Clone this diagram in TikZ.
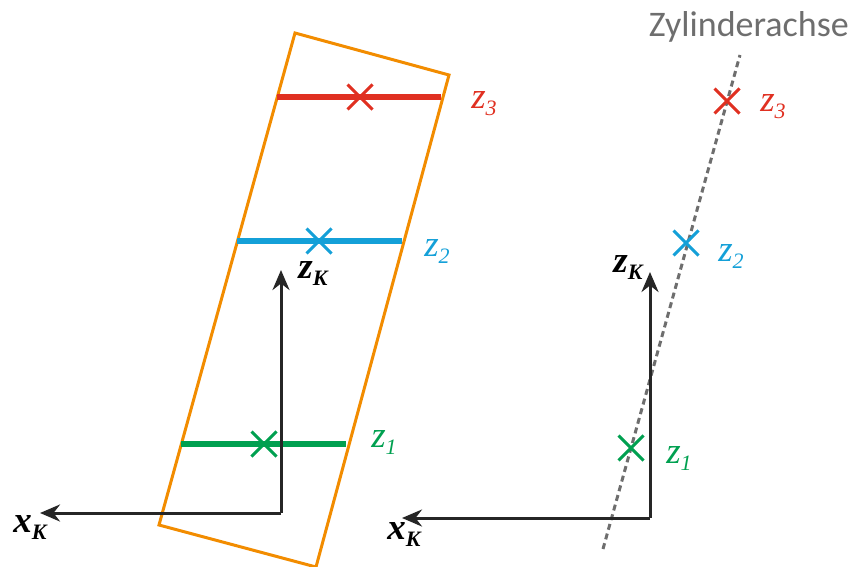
\documentclass[tikz,border=0pt]{standalone}
\usepackage{fontspec}
\setmainfont{Liberation Serif}
\newfontfamily\zfont{Liberation Serif}
\newfontfamily\labelfont{Carlito}
\usepackage{xcolor}
\usepackage{tikz}
\usetikzlibrary{positioning, arrows.meta, shapes.misc}
\definecolor{cylorange}{HTML}{F28C00}
\definecolor{zred}{HTML}{E03021}
\definecolor{zblue}{HTML}{14A0D8}
\definecolor{zgreen}{HTML}{00A050}
\definecolor{axisgray}{HTML}{6E6E6E}

\newcommand{\zsub}[1]{\raisebox{-7pt}{\fontsize{22}{22}\selectfont #1}}

\tikzset{
  axis/.style={line width=3pt, draw=black!85, -{Stealth[length=20pt, width=17pt]}},
  slice/.style={line width=5.5pt},
  centremark/.style={draw, cross out, line width=3pt, minimum size=22pt, inner sep=0pt},
  zlabel/.style={font=\zfont\itshape\fontsize{37}{37}\selectfont, inner sep=0pt},
  klabel/.style={font=\zfont\bfseries\itshape\fontsize{37}{37}\selectfont, inner sep=0pt}
}

\begin{document}
\begin{tikzpicture}[x=1pt, y=-1pt]
    \useasboundingbox (0,0) rectangle (849,567);

    % left: cylinder seen from the side
    \draw[cylorange, line width=3pt, line join=miter]
      (295,33) -- (449,75) -- (316,567) -- (159,525) -- cycle;

    \draw[slice, zred]   (277,97)  -- (441,97);
    \draw[slice, zblue]  (237,241) -- (402,241);
    \draw[slice, zgreen] (181,444) -- (346,444);

    \node[centremark, zred]   (lred)   at (360,97)  {};
    \node[centremark, zblue]  (lblue)  at (319,241) {};
    \node[centremark, zgreen] (lgreen) at (264,444) {};

    \node[zlabel, zred]   (lz3) at (484,104) {z\zsub{3}};
    \node[zlabel, zblue]  (lz2) at (437,252) {z\zsub{2}};
    \node[zlabel, zgreen] (lz1) at (384,443) {z\zsub{1}};

    \coordinate (lo) at (281,513);
    \coordinate (lzt) at (281,270);
    \coordinate (lxt) at (40,513);
    \draw[axis] (lo) -- (lzt);
    \draw[axis] (lo) -- (lxt);
    \node[klabel] (lzk) at (313,274) {z\zsub{K}};
    \node[klabel] (lxk) at (30,528)  {x\zsub{K}};

    % right: only the axis with its centre points
    \coordinate (ra) at (603,549);
    \coordinate (rb) at (740,55);
    \draw[axisgray, line width=3pt, dash pattern=on 6pt off 4pt] (ra) -- (rb);
    \node[font=\labelfont\fontsize{36}{36}\selectfont, text=axisgray, anchor=east, inner sep=0pt]
      (achse) at (849,27) {Zylinderachse};

    \node[centremark, zred]   (rred)   at (727,101) {};
    \node[centremark, zblue]  (rblue)  at (686,243) {};
    \node[centremark, zgreen] (rgreen) at (631,448) {};

    \node[zlabel, zred]   (rz3) at (773,107) {z\zsub{3}};
    \node[zlabel, zblue]  (rz2) at (731,257) {z\zsub{2}};
    \node[zlabel, zgreen] (rz1) at (679,459) {z\zsub{1}};

    \coordinate (ro) at (650,518);
    \coordinate (rzt) at (650,272);
    \coordinate (rxt) at (402,518);
    \draw[axis] (ro) -- (rzt);
    \draw[axis] (ro) -- (rxt);
    \node[klabel] (rzk) at (628,268) {z\zsub{K}};
    \node[klabel] (rxk) at (404,535) {x\zsub{K}};
  \end{tikzpicture}
\end{document}
